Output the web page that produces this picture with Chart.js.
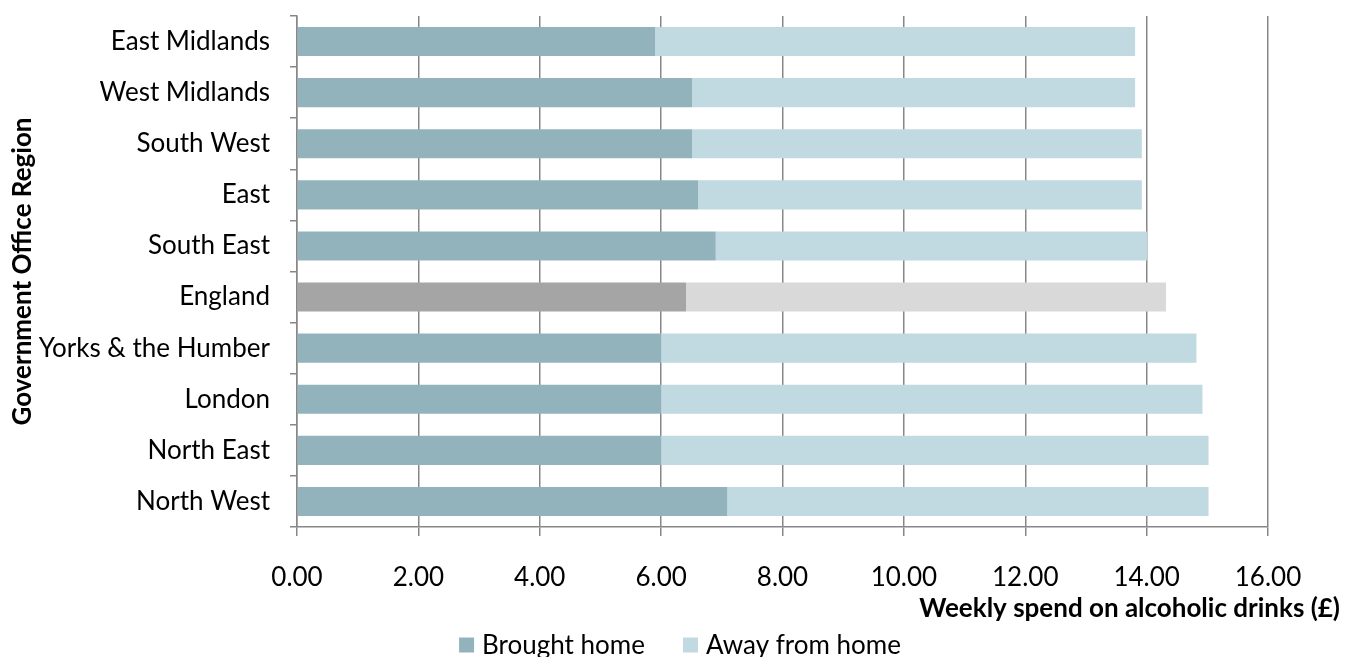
<!DOCTYPE html>
<html><head><meta charset="utf-8">
<script src="https://cdn.jsdelivr.net/npm/chart.js@4"></script>
<style>html,body{margin:0;padding:0;background:#fff}#wrap{width:1346px;height:657px;position:relative}</style>
</head><body><div id="wrap"><canvas id="c" width="1346" height="657"></canvas></div>
<script>
const categories = ["East Midlands","West Midlands","South West","East","South East","England","Yorks & the Humber","London","North East","North West"];
const broughtHome = [5.90, 6.51, 6.51, 6.61, 6.90, 6.41, 6.00, 6.00, 6.00, 7.09];
const awayFromHome = [7.91, 7.30, 7.41, 7.31, 7.11, 7.91, 8.82, 8.92, 9.02, 7.93];
const xTickValues = [0, 2, 4, 6, 8, 10, 12, 14, 16];
const seriesNames = ["Brought home", "Away from home"];
const xTitle = "Weekly spend on alcoholic drinks (£)";
const yTitle = "Government Office Region";

const FONT = "Lato";
const C_BH = "#93B3BC", C_AW = "#C1D9E0", C_BH_E = "#A5A5A5", C_AW_E = "#D9D9D9";
const colorsFor = (base, eng) => categories.map(c => c === "England" ? eng : base);

const extras = {
  id: "extras",
  afterDraw(chart) {
    const ctx = chart.ctx;
    ctx.save();
    // x axis title
    ctx.font = "bold 26px " + FONT;
    ctx.fillStyle = "#000";
    ctx.textAlign = "right";
    ctx.textBaseline = "middle";
    ctx.fillText(xTitle, 1340, 609);
    // legend
    ctx.font = "26px " + FONT;
    const box = 15, gapText = 8, gapItem = 38;
    const items = chart.data.datasets.map(d => ({ text: d.label, color: d.legendColor, w: ctx.measureText(d.label).width }));
    let total = 0;
    items.forEach((it, i) => { total += box + gapText + it.w + (i ? gapItem : 0); });
    let x = 680 - total / 2;
    const cy = 645;
    ctx.textAlign = "left";
    items.forEach((it, i) => {
      if (i) x += gapItem;
      ctx.fillStyle = it.color;
      ctx.fillRect(x, cy - box / 2, box, box);
      x += box + gapText;
      ctx.fillStyle = "#000";
      ctx.fillText(it.text, x, cy + 1);
      x += it.w;
    });
    ctx.restore();
  }
};

new Chart(document.getElementById("c"), {
  type: "bar",
  data: {
    labels: categories,
    datasets: [
      { label: seriesNames[0], data: broughtHome, backgroundColor: colorsFor(C_BH, C_BH_E), legendColor: C_BH,
        categoryPercentage: 1, barPercentage: 0.57 },
      { label: seriesNames[1], data: awayFromHome, backgroundColor: colorsFor(C_AW, C_AW_E), legendColor: C_AW,
        categoryPercentage: 1, barPercentage: 0.57 }
    ]
  },
  options: {
    indexAxis: "y",
    responsive: false,
    animation: false,
    devicePixelRatio: 1,
    layout: { padding: { left: 0, right: 78, top: 16, bottom: 0 } },
    plugins: { legend: { display: false }, tooltip: { enabled: false } },
    scales: {
      x: {
        stacked: true, min: 0, max: 16,
        afterBuildTicks: s => { s.ticks = xTickValues.map(v => ({ value: v })); },
        ticks: { callback: v => Number(v).toFixed(2), font: { family: FONT, size: 26 }, color: "#000", padding: 26, maxRotation: 0 },
        grid: { color: "#878787", lineWidth: 1.5, tickLength: 9 },
        border: { color: "#878787", width: 1.5 },
        afterFit: s => { s.height = 130; s.paddingLeft = 0; s.paddingRight = 0; }
      },
      y: {
        stacked: true,
        ticks: { font: { family: FONT, size: 26 }, color: "#000", padding: 20, autoSkip: false },
        grid: { drawOnChartArea: false, color: "#878787", lineWidth: 1.5, tickLength: 7 },
        border: { color: "#878787", width: 1.5 },
        title: { display: true, text: yTitle, font: { family: FONT, size: 26, weight: "bold" }, color: "#000", padding: { top: 7, bottom: 0 } },
        afterFit: s => { s.width = 297; s.paddingTop = 0; s.paddingBottom = 0; }
      }
    }
  },
  plugins: [extras]
});
</script></body></html>
